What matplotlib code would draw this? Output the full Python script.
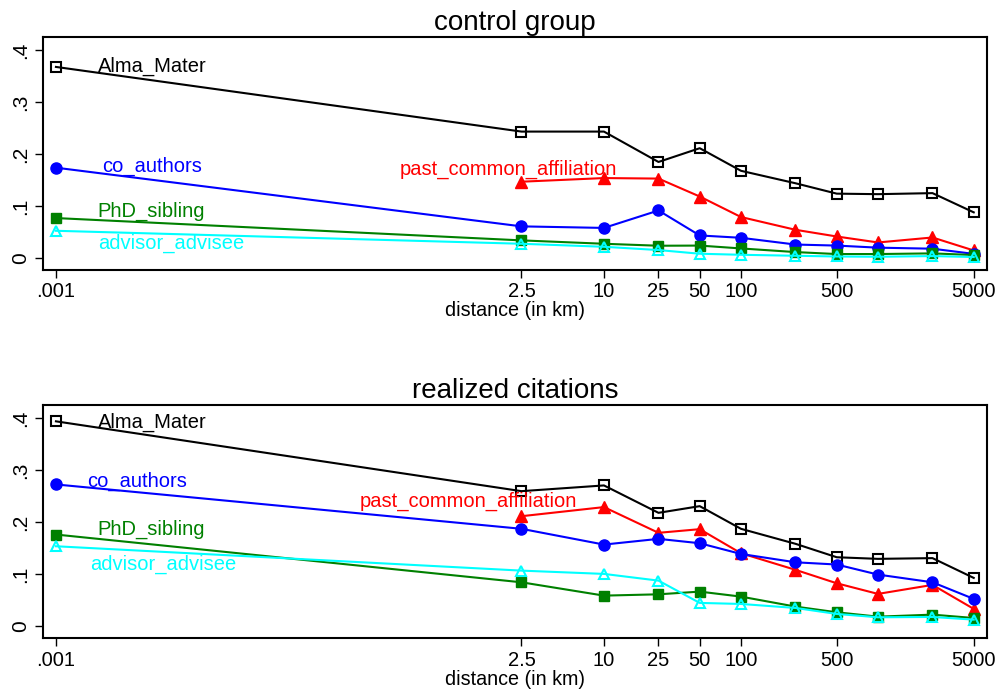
import numpy as np
import matplotlib.pyplot as plt

plt.rcParams['font.family'] = ['Liberation Sans', 'DejaVu Sans']

dist = [0.001, 2.5, 10, 25, 50, 100, 250, 500, 1000, 2500, 5000]
dist_pca = dist[1:]
xticks = [0.001, 2.5, 10, 25, 50, 100, 500, 5000]
xticklabels = ['.001', '2.5', '10', '25', '50', '100', '500', '5000']

# control group
ctrl_alma = [0.368, 0.2435, 0.2435, 0.185, 0.2115, 0.168, 0.144, 0.124, 0.123, 0.125, 0.088]
ctrl_pca = [0.147, 0.154, 0.153, 0.1185, 0.079, 0.0544, 0.0415, 0.030, 0.0396, 0.0146]
ctrl_coauth = [0.174, 0.061, 0.058, 0.0916, 0.0435, 0.039, 0.026, 0.024, 0.020, 0.018, 0.008]
ctrl_phd = [0.077, 0.034, 0.0275, 0.0237, 0.024, 0.0185, 0.0115, 0.0077, 0.0077, 0.009, 0.0058]
ctrl_adv = [0.0525, 0.0275, 0.0217, 0.0154, 0.0083, 0.0063, 0.0044, 0.003, 0.0025, 0.0038, 0.002]

# realized citations
real_alma = [0.3937, 0.2596, 0.2706, 0.218, 0.2308, 0.1873, 0.1585, 0.1327, 0.1296, 0.131, 0.093]
real_pca = [0.2115, 0.229, 0.1796, 0.1866, 0.1404, 0.1085, 0.0827, 0.0623, 0.0796, 0.0335]
real_coauth = [0.2725, 0.1873, 0.157, 0.168, 0.1596, 0.139, 0.123, 0.1187, 0.0994, 0.0846, 0.0527]
real_phd = [0.1763, 0.0846, 0.059, 0.0615, 0.0667, 0.0571, 0.0379, 0.027, 0.0186, 0.0225, 0.016]
real_adv = [0.1538, 0.107, 0.1007, 0.0878, 0.045, 0.043, 0.0353, 0.0238, 0.0174, 0.018, 0.0129]

green = '#008000'

fig = plt.figure(figsize=(9.99, 6.93), dpi=100)
ax1 = fig.add_axes([0.0427, 0.6104, 0.9453, 0.3362])
ax2 = fig.add_axes([0.0427, 0.0789, 0.9453, 0.3371])


def panel(ax, title, alma, pca, coauth, phd, adv, labpos):
    lw = 1.5
    ax.plot(dist, alma, color='black', lw=lw, marker='s', ms=7.5,
            mfc='none', mec='black', mew=1.5)
    ax.plot(dist_pca, pca, color='red', lw=lw, marker='^', ms=8.5)
    ax.plot(dist, coauth, color='blue', lw=lw, marker='o', ms=8)
    ax.plot(dist, phd, color=green, lw=lw, marker='s', ms=7.5)
    ax.plot(dist, adv, color='cyan', lw=lw, marker='^', ms=7.5,
            mfc='none', mec='cyan', mew=1.5)

    names = ['Alma_Mater', 'past_common_affiliation', 'co_authors',
             'PhD_sibling', 'advisor_advisee']
    cols = ['black', 'red', 'blue', green, 'cyan']
    for name, col, (lx, ly) in zip(names, cols, labpos):
        ax.text(lx, ly, name, color=col, fontsize=14.5, va='center', ha='left')

    ax.set_xscale('log')
    ax.set_xlim(0.0008, 6250)
    ax.set_ylim(-0.023, 0.4256)
    ax.minorticks_off()
    ax.set_xticks(xticks)
    ax.set_xticklabels(xticklabels, fontsize=14.5)
    ax.set_yticks([0, 0.1, 0.2, 0.3, 0.4])
    ax.set_yticklabels(['0', '.1', '.2', '.3', '.4'], rotation=90, va='center',
                       fontsize=15)
    ax.tick_params(direction='out', length=6, width=1, pad=3)
    for sp in ax.spines.values():
        sp.set_linewidth(1.5)
    ax.set_xlabel('distance (in km)', fontsize=14.2, labelpad=0)
    ax.set_title(title, fontsize=20, pad=5)


panel(ax1, 'control group', ctrl_alma, ctrl_pca, ctrl_coauth, ctrl_phd, ctrl_adv,
      [(0.00202, 0.37), (0.324, 0.170), (0.00217, 0.1756), (0.00202, 0.089), (0.00202, 0.0275)])
panel(ax2, 'realized citations', real_alma, real_pca, real_coauth, real_phd, real_adv,
      [(0.00202, 0.392), (0.1655, 0.24), (0.0017, 0.278), (0.00202, 0.186), (0.00177, 0.1187)])

fig.savefig('out.png', dpi=100)
